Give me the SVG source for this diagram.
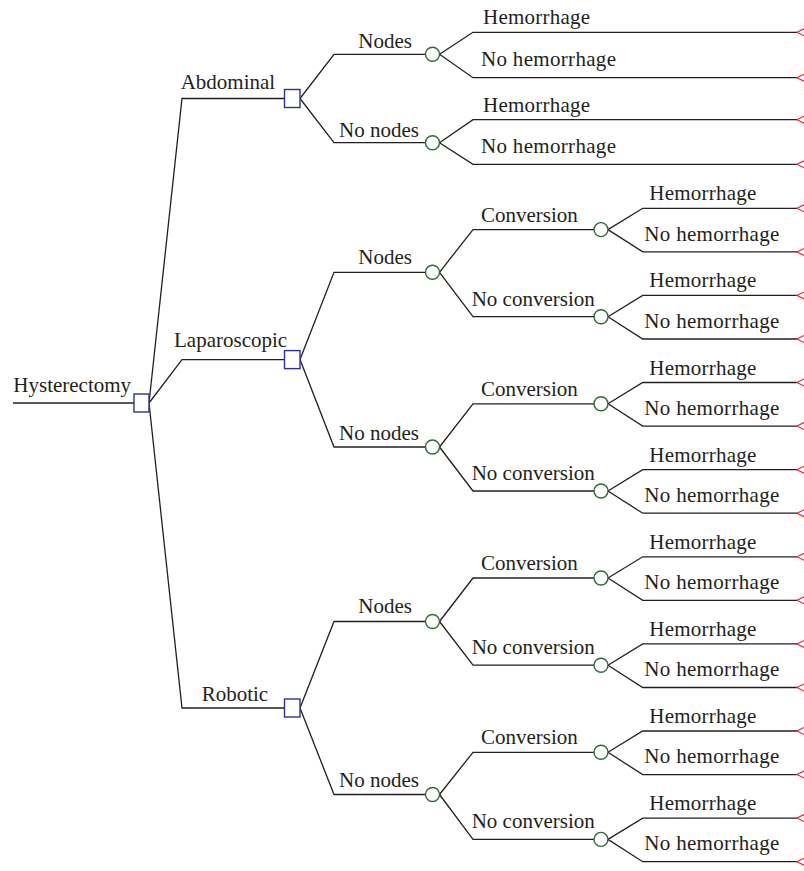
<svg xmlns="http://www.w3.org/2000/svg" width="804" height="871" viewBox="0 0 804 871">
<style>
.e{fill:none;stroke:#231f20;stroke-width:1.3;marker-end:url(#term)}
.r{fill:none;stroke:#231f20;stroke-width:1.3}
.d{fill:#fff;stroke:#2e3192;stroke-width:1.4}
.c{fill:#fff;stroke:#2d6a34;stroke-width:1.4}
text{font-family:"Liberation Serif","Times New Roman",serif;font-size:21px;fill:#231f20}
</style>
<defs>
<marker id="term" markerUnits="userSpaceOnUse" markerWidth="10" markerHeight="10" viewBox="-1 -5 10 10" refX="0" refY="0" orient="auto" overflow="visible">
<path d="M7,-3.5 L0,0 L7,3.5" fill="none" stroke="#e8202a" stroke-width="1.1"/>
</marker>
</defs>
<rect width="804" height="871" fill="#fff"/>
<g id="connectors">
<path class="r" d="M13,403 H134"/>
<path class="r" d="M149,403 L182,98.5 H284.5"/>
<path class="r" d="M149,403 L182,359.6 H284.5"/>
<path class="r" d="M149,403 L182,708 H284.5"/>
<!-- Abdominal -->
<path class="r" d="M300,98.5 L334,54.3 H425.5"/>
<path class="r" d="M300,98.5 L334,142.7 H425.5"/>
<path class="e" d="M439.5,54.3 L473,32.3 H797"/>
<path class="e" d="M439.5,54.3 L473,77.7 H797"/>
<path class="e" d="M439.5,142.7 L473,119.7 H797"/>
<path class="e" d="M439.5,142.7 L473,164.3 H797"/>
<!-- Laparoscopic -->
<path class="r" d="M300,359.6 L334,272.3 H425.5"/>
<path class="r" d="M300,359.6 L334,447 H425.5"/>
<path class="r" d="M439.5,272.3 L473,229.6 H594"/>
<path class="r" d="M439.5,272.3 L473,316.7 H594"/>
<path class="r" d="M439.5,447 L473,403.8 H594"/>
<path class="r" d="M439.5,447 L473,491 H594"/>
<path class="e" d="M608,229.6 L642.7,208.3 H797"/>
<path class="e" d="M608,229.6 L642.7,251.9 H797"/>
<path class="e" d="M608,316.7 L642.7,295.4 H797"/>
<path class="e" d="M608,316.7 L642.7,339 H797"/>
<path class="e" d="M608,403.8 L642.7,382.5 H797"/>
<path class="e" d="M608,403.8 L642.7,426.1 H797"/>
<path class="e" d="M608,491 L642.7,469.7 H797"/>
<path class="e" d="M608,491 L642.7,513.2 H797"/>
<!-- Robotic -->
<path class="r" d="M300,708 L334,621.5 H425.5"/>
<path class="r" d="M300,708 L334,794.5 H425.5"/>
<path class="r" d="M439.5,621.5 L473,578 H594"/>
<path class="r" d="M439.5,621.5 L473,665.2 H594"/>
<path class="r" d="M439.5,794.5 L473,752.3 H594"/>
<path class="r" d="M439.5,794.5 L473,839.4 H594"/>
<path class="e" d="M608,578 L642.7,556.8 H797"/>
<path class="e" d="M608,578 L642.7,600.3 H797"/>
<path class="e" d="M608,665.2 L642.7,643.9 H797"/>
<path class="e" d="M608,665.2 L642.7,687.5 H797"/>
<path class="e" d="M608,752.3 L642.7,731 H797"/>
<path class="e" d="M608,752.3 L642.7,774.6 H797"/>
<path class="e" d="M608,839.4 L642.7,818.1 H797"/>
<path class="e" d="M608,839.4 L642.7,861.7 H797"/>
</g>
<g id="labels">
<text x="13.3" y="392">Hysterectomy</text>
<text x="180.7" y="89">Abdominal</text>
<text x="174" y="347">Laparoscopic</text>
<text x="201.7" y="700.5">Robotic</text>
<text x="358.3" y="47.5">Nodes</text>
<text x="339" y="136.5">No nodes</text>
<text x="358.3" y="264">Nodes</text>
<text x="339" y="439.5">No nodes</text>
<text x="358.3" y="613.3">Nodes</text>
<text x="339" y="787">No nodes</text>
<text x="483" y="24.3" textLength="107" lengthAdjust="spacing">Hemorrhage</text>
<text x="481" y="66.3" textLength="135" lengthAdjust="spacing">No hemorrhage</text>
<text x="483" y="111.7" textLength="107" lengthAdjust="spacing">Hemorrhage</text>
<text x="481" y="153" textLength="135" lengthAdjust="spacing">No hemorrhage</text>
<text x="481" y="221.6">Conversion</text>
<text x="471.7" y="305.5">No conversion</text>
<text x="481" y="395.8">Conversion</text>
<text x="471.7" y="480">No conversion</text>
<text x="481" y="570">Conversion</text>
<text x="471.7" y="654.3">No conversion</text>
<text x="481" y="744.3">Conversion</text>
<text x="471.7" y="828.4">No conversion</text>
<text x="649.3" y="200.3" textLength="107" lengthAdjust="spacing">Hemorrhage</text>
<text x="644.3" y="240.5" textLength="135" lengthAdjust="spacing">No hemorrhage</text>
<text x="649.3" y="287.4" textLength="107" lengthAdjust="spacing">Hemorrhage</text>
<text x="644.3" y="327.6" textLength="135" lengthAdjust="spacing">No hemorrhage</text>
<text x="649.3" y="374.5" textLength="107" lengthAdjust="spacing">Hemorrhage</text>
<text x="644.3" y="414.7" textLength="135" lengthAdjust="spacing">No hemorrhage</text>
<text x="649.3" y="461.7" textLength="107" lengthAdjust="spacing">Hemorrhage</text>
<text x="644.3" y="501.8" textLength="135" lengthAdjust="spacing">No hemorrhage</text>
<text x="649.3" y="548.8" textLength="107" lengthAdjust="spacing">Hemorrhage</text>
<text x="644.3" y="588.9" textLength="135" lengthAdjust="spacing">No hemorrhage</text>
<text x="649.3" y="635.9" textLength="107" lengthAdjust="spacing">Hemorrhage</text>
<text x="644.3" y="676.1" textLength="135" lengthAdjust="spacing">No hemorrhage</text>
<text x="649.3" y="723" textLength="107" lengthAdjust="spacing">Hemorrhage</text>
<text x="644.3" y="763.2" textLength="135" lengthAdjust="spacing">No hemorrhage</text>
<text x="649.3" y="810.1" textLength="107" lengthAdjust="spacing">Hemorrhage</text>
<text x="644.3" y="850.3" textLength="135" lengthAdjust="spacing">No hemorrhage</text>
</g>
<g id="n-root"><rect class="d" x="134" y="394" width="15" height="18"/></g>
<g id="n-abdominal"><rect class="d" x="284.5" y="89.5" width="15.5" height="18"/></g>
<g id="n-laparoscopic"><rect class="d" x="284.5" y="350.6" width="15.5" height="18"/></g>
<g id="n-robotic"><rect class="d" x="284.5" y="699" width="15.5" height="18"/></g>
<g id="n-abd-nodes"><circle class="c" cx="432.5" cy="54.3" r="7"/></g>
<g id="n-abd-nonodes"><circle class="c" cx="432.5" cy="142.7" r="7"/></g>
<g id="n-lap-nodes"><circle class="c" cx="432.5" cy="272.3" r="7"/></g>
<g id="n-lap-nonodes"><circle class="c" cx="432.5" cy="447" r="7"/></g>
<g id="n-rob-nodes"><circle class="c" cx="432.5" cy="621.5" r="7"/></g>
<g id="n-rob-nonodes"><circle class="c" cx="432.5" cy="794.5" r="7"/></g>
<g id="n-lap-nodes-conv"><circle class="c" cx="601" cy="229.6" r="7"/></g>
<g id="n-lap-nodes-noconv"><circle class="c" cx="601" cy="316.7" r="7"/></g>
<g id="n-lap-nonodes-conv"><circle class="c" cx="601" cy="403.8" r="7"/></g>
<g id="n-lap-nonodes-noconv"><circle class="c" cx="601" cy="491" r="7"/></g>
<g id="n-rob-nodes-conv"><circle class="c" cx="601" cy="578" r="7"/></g>
<g id="n-rob-nodes-noconv"><circle class="c" cx="601" cy="665.2" r="7"/></g>
<g id="n-rob-nonodes-conv"><circle class="c" cx="601" cy="752.3" r="7"/></g>
<g id="n-rob-nonodes-noconv"><circle class="c" cx="601" cy="839.4" r="7"/></g>
</svg>
